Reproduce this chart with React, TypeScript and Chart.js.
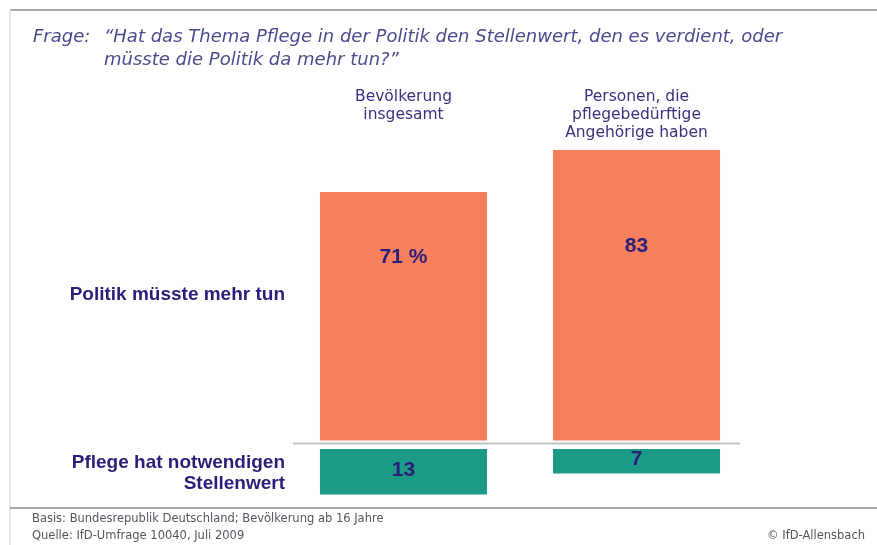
import React, { useEffect, useRef } from "react";
import { Chart, registerables } from "chart.js";

Chart.register(...registerables);

const GROUPS: string[][] = [
  ["Bevölkerung", "insgesamt"],
  ["Personen, die", "pflegebedürftige", "Angehörige haben"],
];
const MEHR_TUN: number[] = [71, 83];
const STELLENWERT: number[] = [13, 7];
const VALUE_LABELS_TOP: string[] = ["71 %", "83"];
const VALUE_LABELS_BOTTOM: string[] = ["13", "7"];
const ROW_LABEL_TOP: string[] = ["Politik müsste mehr tun"];
const ROW_LABEL_BOTTOM: string[] = ["Pflege hat notwendigen", "Stellenwert"];
const TITLE_PREFIX = "Frage:";
const TITLE_LINES: string[] = [
  "\u201CHat das Thema Pflege in der Politik den Stellenwert, den es verdient, oder",
  "müsste die Politik da mehr tun?\u201D",
];
const FOOTER_LEFT: string[] = [
  "Basis: Bundesrepublik Deutschland; Bevölkerung ab 16 Jahre",
  "Quelle: IfD-Umfrage 10040, Juli 2009",
];
const FOOTER_RIGHT = "© IfD-Allensbach";

// style constants
const GAP = 2.45; // visual gap (data units) between baseline and lower bars
const LABEL_LEVELS = [52.5, 55.5];
const ORANGE = "#f7805f";
const TEAL = "#1b9a88";
const NAVY = "#2a1f78";
const TITLE_COLOR = "#4a4a8e";
const FONT = "'Liberation Sans', Arial, sans-serif";
const WIDE = "'DejaVu Sans', 'Liberation Sans', sans-serif";

const decorPlugin = {
  id: "decor",
  beforeDraw(chart: any) {
    const { ctx } = chart;
    ctx.save();
    ctx.fillStyle = "#ffffff";
    ctx.fillRect(0, 0, chart.width, chart.height);
    ctx.strokeStyle = "#a8a8a8";
    ctx.lineWidth = 2;
    ctx.beginPath();
    ctx.moveTo(10, 10);
    ctx.lineTo(877, 10);
    ctx.stroke();
    ctx.strokeStyle = "#dcdcdc";
    ctx.lineWidth = 1.5;
    ctx.beginPath();
    ctx.moveTo(10, 10);
    ctx.lineTo(10, 545);
    ctx.stroke();
    ctx.strokeStyle = "#a8a8a8";
    ctx.lineWidth = 2;
    ctx.beginPath();
    ctx.moveTo(10, 508);
    ctx.lineTo(877, 508);
    ctx.stroke();
    const y0 = chart.scales.y.getPixelForValue(0) + 3;
    ctx.strokeStyle = "#c2c2c8";
    ctx.lineWidth = 2;
    ctx.beginPath();
    ctx.moveTo(293, y0);
    ctx.lineTo(740, y0);
    ctx.stroke();
    ctx.restore();
  },
  afterDraw(chart: any) {
    const { ctx } = chart;
    const xs = chart.scales.x;
    const ys = chart.scales.y;
    ctx.save();
    ctx.textBaseline = "middle";
    // title
    ctx.fillStyle = TITLE_COLOR;
    ctx.font = `oblique 18px ${WIDE}`;
    ctx.textAlign = "left";
    ctx.fillText(TITLE_PREFIX, 33, 37);
    ctx.fillText(TITLE_LINES[0], 104, 37);
    ctx.fillText(TITLE_LINES[1], 104, 60);
    // group headers
    ctx.fillStyle = "#3a3080";
    ctx.font = `15.5px ${WIDE}`;
    ctx.textAlign = "center";
    GROUPS.forEach((lines, i) => {
      const cx = xs.getPixelForValue(i);
      lines.forEach((l, j) => ctx.fillText(l, cx, 97 + j * 18));
    });
    // row labels
    ctx.fillStyle = NAVY;
    ctx.font = `bold 19px ${FONT}`;
    ctx.textAlign = "right";
    ROW_LABEL_TOP.forEach((l, j) => ctx.fillText(l, 285, 295 + j * 21));
    ROW_LABEL_BOTTOM.forEach((l, j) => ctx.fillText(l, 285, 463 + j * 21));
    // value labels
    ctx.textAlign = "center";
    ctx.font = `bold 21px ${FONT}`;
    VALUE_LABELS_TOP.forEach((t, i) => {
      ctx.fillText(t, xs.getPixelForValue(i), ys.getPixelForValue(LABEL_LEVELS[i]));
    });
    VALUE_LABELS_BOTTOM.forEach((t, i) => {
      const top = ys.getPixelForValue(-GAP);
      const bot = ys.getPixelForValue(-GAP - STELLENWERT[i]);
      ctx.fillText(t, xs.getPixelForValue(i), (top + bot) / 2 - 2);
    });
    // footer
    ctx.fillStyle = "#555560";
    ctx.font = `11.5px ${WIDE}`;
    ctx.textAlign = "left";
    FOOTER_LEFT.forEach((l, j) => ctx.fillText(l, 32, 519 + j * 17));
    ctx.textAlign = "right";
    ctx.fillText(FOOTER_RIGHT, 865, 536);
    ctx.restore();
  },
};

export default function App() {
  const ref = useRef<HTMLCanvasElement | null>(null);
  useEffect(() => {
    if (!ref.current) return;
    const chart = new Chart(ref.current, {
      type: "bar",
      data: {
        labels: GROUPS.map((g) => g.join(" ")),
        datasets: [
          {
            label: "Politik müsste mehr tun",
            data: MEHR_TUN,
            backgroundColor: ORANGE,
            grouped: false,
            barPercentage: 0.717,
            categoryPercentage: 1,
          } as any,
          {
            label: "Pflege hat notwendigen Stellenwert",
            data: STELLENWERT.map((v) => [-GAP, -GAP - v]),
            backgroundColor: TEAL,
            grouped: false,
            barPercentage: 0.717,
            categoryPercentage: 1,
          } as any,
        ],
      },
      options: {
        animation: false,
        responsive: false,
        layout: { padding: { left: 287, right: 124, top: 90.5, bottom: 34.5 } },
        plugins: { legend: { display: false }, tooltip: { enabled: false } },
        scales: {
          x: { display: false },
          y: { display: false, min: -20, max: 100 },
        },
      },
      plugins: [decorPlugin],
    });
    return () => chart.destroy();
  }, []);
  return (
    <div style={{ position: "absolute", left: 0, top: 0, width: 877, height: 545 }}>
      <canvas ref={ref} width={877} height={545} />
    </div>
  );
}
